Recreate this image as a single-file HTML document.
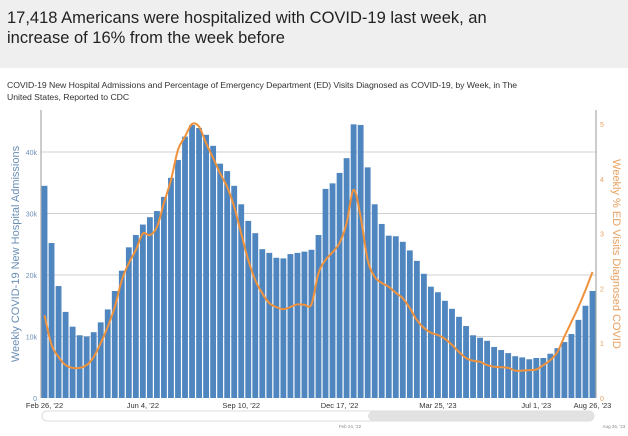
<!DOCTYPE html>
<html><head><meta charset="utf-8"><style>
body{margin:0;width:628px;height:436px;background:#fff;font-family:"Liberation Sans",sans-serif;overflow:hidden}
#hdr{position:absolute;left:0;top:0;width:628px;height:68px;background:#efefef}
#hdr div{position:absolute;left:7px;top:8px;font-size:16.5px;line-height:20px;color:#222;width:495px}
#sub{position:absolute;left:7px;top:79px;font-size:8.7px;line-height:12px;color:#333;width:530px;letter-spacing:-0.05px}
svg{position:absolute;left:0;top:0}
</style></head><body>
<div id="hdr"><div>17,418 Americans were hospitalized with COVID-19 last week, an increase of 16% from the week before</div></div>
<div id="sub">COVID-19 New Hospital Admissions and Percentage of Emergency Department (ED) Visits Diagnosed as COVID-19, by Week, in The United States, Reported to CDC</div>
<svg id="c" width="628" height="436"></svg>
<script>
const admissions=[34.5,25.2,18.2,14.0,11.6,10.2,10.0,10.7,12.3,14.4,17.4,20.7,24.5,26.5,28.2,29.4,30.4,32.7,35.8,38.7,42.5,44.4,43.9,42.8,41.0,38.1,36.9,34.5,31.5,28.8,26.8,24.2,23.6,22.8,22.7,23.4,23.6,23.8,24.1,26.5,34.0,34.9,36.6,39.0,44.5,44.4,37.5,31.5,28.3,26.4,26.3,25.4,24.0,22.3,20.2,18.1,17.2,15.8,14.5,13.2,11.7,10.2,9.8,9.3,8.3,7.8,7.3,6.8,6.6,6.3,6.5,6.5,7.2,8.1,9.1,10.4,12.7,15.0,17.4];
const edPct=[1.51,0.97,0.75,0.6,0.55,0.55,0.6,0.75,1.0,1.3,1.66,2.15,2.46,2.7,3.0,2.97,3.12,3.56,3.98,4.53,4.77,5.0,4.95,4.65,4.38,4.1,3.85,3.49,3.0,2.52,2.15,1.91,1.73,1.66,1.62,1.66,1.71,1.7,1.71,2.28,2.52,2.66,2.83,3.19,3.8,3.3,2.52,2.21,2.1,2.03,1.92,1.82,1.64,1.42,1.28,1.19,1.15,1.08,0.97,0.84,0.73,0.68,0.66,0.6,0.57,0.56,0.55,0.5,0.5,0.51,0.52,0.6,0.69,0.84,1.12,1.39,1.66,1.97,2.3];
const leftTicks=["0","10k","20k","30k","40k"];
const rightTicks=["0","1","2","3","4","5"];
const xLabels=[[0,"Feb 26, '22"],[14,"Jun 4, '22"],[28,"Sep 10, '22"],[42,"Dec 17, '22"],[56,"Mar 25, '23"],[70,"Jul 1, '23"],[78,"Aug 26, '23"]];
const NS="http://www.w3.org/2000/svg",svg=document.getElementById('c');
const X0=41,X1=596,Y0=398,bw=(X1-X0)/admissions.length;
const yL=v=>Y0-v*6.15, yR=v=>Y0-v*54.8, xB=i=>X0+i*bw;
function mk(t,a,p){const e=document.createElementNS(NS,t);for(const k in a)e.setAttribute(k,a[k]);(p||svg).appendChild(e);return e;}
leftTicks.forEach((t,i)=>{const y=yL(i*10);
 if(i>0){const g=mk('line',{x1:X0,x2:X1,y1:y,y2:y,stroke:'#d0d0d0','stroke-width':1});}
 const tx=mk('text',{x:37,y:y+3,'text-anchor':'end','font-size':7,fill:'#6b8fb5'});tx.textContent=t;});
admissions.forEach((v,i)=>{const r=mk('rect',{x:xB(i)+0.6,y:yL(v),width:bw-1.2,height:Y0-yL(v),fill:'#4f86c0'});
 });
rightTicks.forEach((t,i)=>{const y=yR(i);const tx=mk('text',{x:600,y:y+3,'font-size':7,fill:'#e8a060'});tx.textContent=t;
 });
const pts=edPct.map((v,i)=>[xB(i)+bw/2,yR(v)]);
let d='M'+pts[0][0].toFixed(1)+','+pts[0][1].toFixed(1);
for(let i=0;i<pts.length-1;i++){const p0=pts[Math.max(0,i-1)],p1=pts[i],p2=pts[i+1],p3=pts[Math.min(pts.length-1,i+2)];
 const c1=[p1[0]+(p2[0]-p0[0])/6,p1[1]+(p2[1]-p0[1])/6],c2=[p2[0]-(p3[0]-p1[0])/6,p2[1]-(p3[1]-p1[1])/6];
 d+='C'+c1[0].toFixed(1)+','+c1[1].toFixed(1)+' '+c2[0].toFixed(1)+','+c2[1].toFixed(1)+' '+p2[0].toFixed(1)+','+p2[1].toFixed(1);}
const ln=mk('path',{d:d,fill:'none',stroke:'#f0923c','stroke-width':2,'stroke-linejoin':'round'});

const la=mk('line',{x1:X0,x2:X0,y1:110,y2:Y0,stroke:'#999'});
const ra=mk('line',{x1:X1,x2:X1,y1:110,y2:Y0,stroke:'#999'});
xLabels.forEach(([i,t])=>{const tx=mk('text',{x:xB(i)+bw/2,y:408,'text-anchor':'middle','font-size':7.5,fill:'#333'});tx.textContent=t;
 });
const yt=mk('text',{transform:'translate(19,254) rotate(-90)','text-anchor':'middle','font-size':11,fill:'#6b8fb5'});yt.textContent='Weekly COVID-19 New Hospital Admissions';

const yt2=mk('text',{transform:'translate(613,254) rotate(90)','text-anchor':'middle','font-size':11,fill:'#e8a060'});yt2.textContent='Weekly % ED Visits Diagnosed COVID';

const sb=mk('rect',{x:42,y:411,width:552,height:10,rx:5,fill:'#fff',stroke:'#ddd'});
const th=mk('rect',{x:368,y:411,width:226,height:10,rx:5,fill:'#e2e2e2'});
const s1=mk('text',{x:350,y:428,'text-anchor':'middle','font-size':4.5,fill:'#888'});s1.textContent="Feb 24, '22";
const s2=mk('text',{x:614,y:428,'text-anchor':'middle','font-size':4.5,fill:'#888'});s2.textContent="Aug 26, '23";
</script>
</body></html>
